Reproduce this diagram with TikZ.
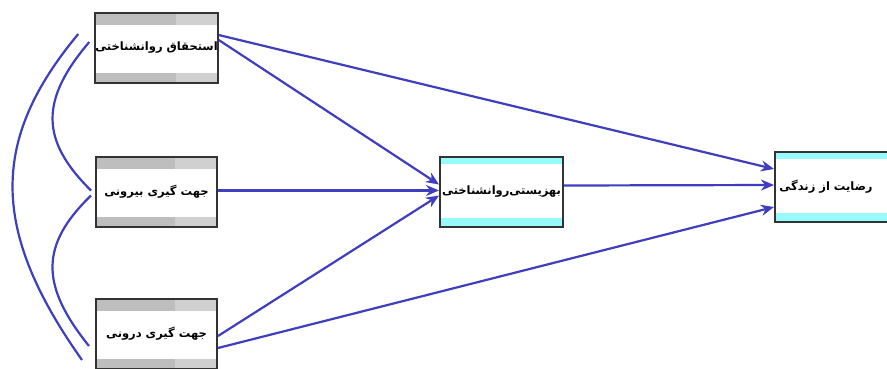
\documentclass[tikz,border=0pt]{standalone}
\usepackage{fontspec}
\newfontfamily\arabicfont[Script=Arabic, BoldFont={DejaVu Sans Bold}]{DejaVu Sans}
\TeXXeTstate=1
\usetikzlibrary{positioning, arrows.meta}

\definecolor{pathblue}{RGB}{62,62,190}
\definecolor{bandgray}{RGB}{190,190,190}
\definecolor{bandlight}{RGB}{208,208,208}
\definecolor{bandcyan}{RGB}{150,250,250}

\begin{document}
\begin{tikzpicture}[x=1pt, y=-1pt,
    exo/.style={draw=black!80, line width=2pt, fill=white, minimum width=121pt,
                minimum height=70pt, inner sep=0pt,
                font=\arabicfont\bfseries\fontsize{11.5}{13}\selectfont,
                path picture={
                  \fill[bandgray] (path picture bounding box.north west) rectangle
                    ([xshift=-42pt,yshift=-12pt]path picture bounding box.north east);
                  \fill[bandlight] ([xshift=-42pt]path picture bounding box.north east) rectangle
                    ([yshift=-12pt]path picture bounding box.north east);
                  \fill[bandgray] (path picture bounding box.south west) rectangle
                    ([xshift=-42pt,yshift=10pt]path picture bounding box.south east);
                  \fill[bandlight] ([xshift=-42pt]path picture bounding box.south east) rectangle
                    ([yshift=10pt]path picture bounding box.south east);
                }},
    endo/.style={exo, path picture={
                  \fill[bandcyan] (path picture bounding box.north west) rectangle
                    ([yshift=-7pt]path picture bounding box.north east);
                  \fill[bandcyan] (path picture bounding box.south west) rectangle
                    ([yshift=9pt]path picture bounding box.south east);
                }},
    arrow/.style={-{Stealth[length=13pt, width=11pt]}, line width=2.2pt, draw=pathblue, fill=pathblue},
    corr/.style={line width=2.2pt, draw=pathblue}
  ]
    \useasboundingbox (0,0) rectangle (887,368);

    % Exogenous variables
    \node[exo] (ent) at (156.5, 48) {\beginR استحقاق روانشناختی\endR};
    \node[exo] (ext) at (156.5, 191.5) {\beginR جهت گیری بیرونی\endR};
    \node[exo] (int) at (156.5, 334) {\beginR جهت گیری درونی\endR};

    % Mediator and outcome
    \node[endo, minimum width=123pt] (wel) at (501.5, 191.5) {\beginR بهزیستی‌روانشناختی\endR};
    \node[endo, minimum width=124pt] (sat) at (837, 187) {\hspace*{-22pt}\beginR رضایت از زندگی\endR};

    % Paths
    \draw[arrow] ([yshift=8pt]ent.east) -- ([yshift=7pt]wel.west);
    \draw[arrow] ([yshift=13pt]ent.east) -- ([yshift=18pt]sat.west);
    \draw[arrow] ([yshift=1pt]ext.east) -- ([yshift=1pt]wel.west);
    \draw[arrow] ([yshift=-2pt]int.east) -- ([yshift=-4pt]wel.west);
    \draw[arrow] ([yshift=-14pt]int.east) -- ([yshift=-20pt]sat.west);
    \draw[arrow] ([yshift=6pt]wel.east) -- ([yshift=2pt]sat.west);

    % Correlations
    \draw[corr] ([xshift=-16pt,yshift=14pt]ent.west) .. controls (-10,140) and (-10,230) .. ([xshift=-13pt,yshift=-26pt]int.west);
    \draw[corr] ([xshift=-5pt,yshift=6pt]ent.west) .. controls (40,100) and (40,140) .. ([xshift=-4pt,yshift=1pt]ext.west);
    \draw[corr] ([xshift=-4pt,yshift=-4pt]ext.west) .. controls (40,245) and (40,285) .. ([xshift=-6pt,yshift=-12pt]int.west);
\end{tikzpicture}
\end{document}
